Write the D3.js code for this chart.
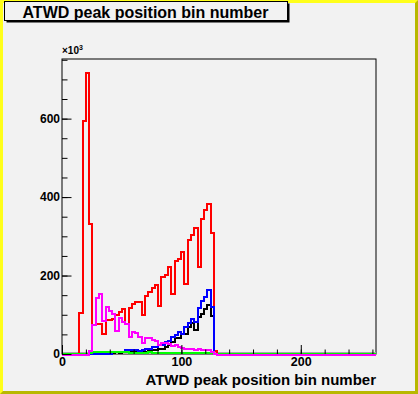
<!DOCTYPE html>
<html>
<head>
<meta charset="utf-8">
<title>ATWD peak position bin number</title>
<style>
  body { margin: 0; background: #fff; }
  svg { display: block; }
  text { font-family: "Liberation Sans", Arial, sans-serif; }
</style>
</head>
<body>
<script src="https://cdn.jsdelivr.net/npm/d3@7"></script>
<script>

// histogram binning (x in bin-number units)
var xRange = [0, 263];
var binLow = 14.5;      // lower edge of the first filled bin
var binWidth = 2.75;

// bin contents, in thousands (x10^3)
var red     = [105, 594, 716, 331, 73, 76, 77, 52, 87, 86, 90, 100, 107, 114, 76, 118, 128, 132, 132, 100,
               148, 158, 168, 175, 122, 196, 202, 222, 152, 236, 243, 260, 179, 290, 303, 320, 222, 345, 367, 382, 309, 8];
var magenta = [0, 0, 0, 10, 75, 145, 154, 85, 122, 112, 104, 60, 92, 82, 78, 45, 57, 55, 45, 29,
               43, 41, 38, 34, 23, 29, 29, 26, 22, 23, 20, 17, 15, 15, 13, 12, 14, 11, 12, 11, 6, 2];
var blue    = [0, 0, 0, 0, 0, 0, 0, 0, 0, 0, 5, 6, 6, 5, 9, 9, 10, 9, 8, 10,
               12, 14, 17, 18, 23, 24, 31, 33, 44, 48, 57, 52, 70, 78, 90, 82, 118, 135, 146, 163, 120, 0];
var black   = [0, 0, 0, 0, 1, 1, 2, 2, 2, 3, 3, 4, 3, 4, 5, 5, 5, 5, 5, 5,
               6, 8, 10, 10, 13, 14, 18, 23, 30, 40, 41, 50, 52, 70, 78, 61, 95, 103, 114, 125, 97, 0];
var green   = [0, 0, 0, 2, 6, 6, 5, 4, 5, 4, 6, 5, 4, 5, 4, 3, 3, 3, 3, 3,
               3, 4, 3, 3, 3, 3, 3, 2, 2, 2, 2, 2, 2, 2, 2, 2, 2, 2, 2, 2, 2, 0];
var grey    = [];

var yMax = 752;
var xMajor = [0, 100, 200];
var yMajor = [0, 200, 400, 600];

var title = "ATWD peak position bin number";

// layout
var W = 418, H = 394;
var frame = {left: 62, right: 376, top: 59, bottom: 354};

var svg = d3.select("body").append("svg")
  .attr("width", W)
  .attr("height", H);

// canvas with bevelled yellow border
var bw = 3;
svg.append("rect").attr("width", W).attr("height", H).attr("fill", "#b8b800");
svg.append("polygon")
  .attr("points", [[0,0],[W,0],[W-bw,bw],[bw,bw],[bw,H-bw],[0,H]].join(" "))
  .attr("fill", "#ffff1a");
svg.append("rect")
  .attr("x", bw).attr("y", bw)
  .attr("width", W - 2*bw).attr("height", H - 2*bw)
  .attr("fill", "#f2f2f2");

// title box
var tb = {x: 4.5, y: 1.5, w: 283, h: 19};
svg.append("rect")
  .attr("x", tb.x + 2).attr("y", tb.y + 2)
  .attr("width", tb.w).attr("height", tb.h)
  .attr("fill", "#000");
svg.append("rect")
  .attr("x", tb.x).attr("y", tb.y)
  .attr("width", tb.w).attr("height", tb.h)
  .attr("fill", "#f2f2f2")
  .attr("stroke", "#000")
  .attr("stroke-width", 1);
svg.append("text")
  .attr("x", 22.5).attr("y", 17.5)
  .style("font-size", "16px")
  .style("font-weight", "bold")
  .text(title);

// scales
var x = d3.scaleLinear().domain(xRange).range([frame.left, frame.right]);
var y = d3.scaleLinear().domain([0, yMax]).range([frame.bottom, frame.top]);

// frame
svg.append("rect")
  .attr("x", frame.left).attr("y", frame.top)
  .attr("width", frame.right - frame.left)
  .attr("height", frame.bottom - frame.top)
  .attr("fill", "#f2f2f2")
  .attr("stroke", "#000")
  .attr("stroke-width", 1);

// histogram outline: runs along zero over the whole axis, steps at bin edges
function histPoints(vals) {
  var pts = [[xRange[0], 0], [binLow, 0]];
  vals.forEach(function(v, i) {
    var lo = binLow + i*binWidth;
    pts.push([lo, v], [lo + binWidth, v]);
  });
  pts.push([binLow + vals.length*binWidth, 0], [xRange[1], 0]);
  return pts;
}

var line = d3.line()
  .x(function(d){ return x(d[0]); })
  .y(function(d){ return y(d[1]); });

var series = [
  {vals: grey,    color: "#a8a8a8", shift: -1},
  {vals: red,     color: "#ff0000", shift: 0},
  {vals: black,   color: "#000000", shift: 0},
  {vals: blue,    color: "#0000ff", shift: 0},
  {vals: green,   color: "#00ff00", shift: 0},
  {vals: magenta, color: "#ff00ff", shift: 0.5}
];

svg.append("g")
  .selectAll("path")
  .data(series)
  .enter()
  .append("path")
  .attr("transform", function(d){ return "translate(0," + d.shift + ")"; })
  .attr("d", function(d){ return line(histPoints(d.vals)); })
  .attr("fill", "none")
  .attr("stroke", function(d){ return d.color; })
  .attr("stroke-width", 2)
  .attr("shape-rendering", "crispEdges");

// x axis: ticks pointing up into the frame
svg.append("g")
  .attr("transform", "translate(0," + frame.bottom + ")")
  .call(d3.axisBottom(x).tickValues(d3.range(0, xRange[1], 20)).tickSize(-4.5).tickFormat(""))
  .call(function(g){ g.select(".domain").remove(); });

var xAxis = svg.append("g")
  .attr("transform", "translate(0," + frame.bottom + ")")
  .call(d3.axisBottom(x).tickValues(xMajor).tickSize(-9).tickPadding(3).tickFormat(d3.format("d")));
xAxis.select(".domain").remove();
xAxis.selectAll("text")
  .attr("fill", "#000")
  .style("font-size", "12.5px")
  .style("font-weight", "bold");

// y axis: ticks pointing right into the frame
svg.append("g")
  .attr("transform", "translate(" + frame.left + ",0)")
  .call(d3.axisLeft(y).tickValues(d3.range(0, yMax, 50)).tickSize(-5.5).tickFormat(""))
  .call(function(g){ g.select(".domain").remove(); });

var yAxis = svg.append("g")
  .attr("transform", "translate(" + frame.left + ",0)")
  .call(d3.axisLeft(y).tickValues(yMajor).tickSize(-9.5).tickPadding(2).tickFormat(d3.format("d")));
yAxis.select(".domain").remove();
yAxis.selectAll("text")
  .attr("fill", "#000")
  .style("font-size", "12px")
  .style("font-weight", "bold");

// x10^3 multiplier
var mult = svg.append("text")
  .attr("x", frame.left)
  .attr("y", 54)
  .style("font-size", "10px")
  .style("font-weight", "bold");
mult.append("tspan").text("\u00d710");
mult.append("tspan").attr("dy", -4).style("font-size", "7px").text("3");

// x axis title
svg.append("text")
  .attr("x", frame.right)
  .attr("y", 385)
  .attr("text-anchor", "end")
  .style("font-size", "15px")
  .style("font-weight", "bold")
  .text(title);

</script>
</body>
</html>
